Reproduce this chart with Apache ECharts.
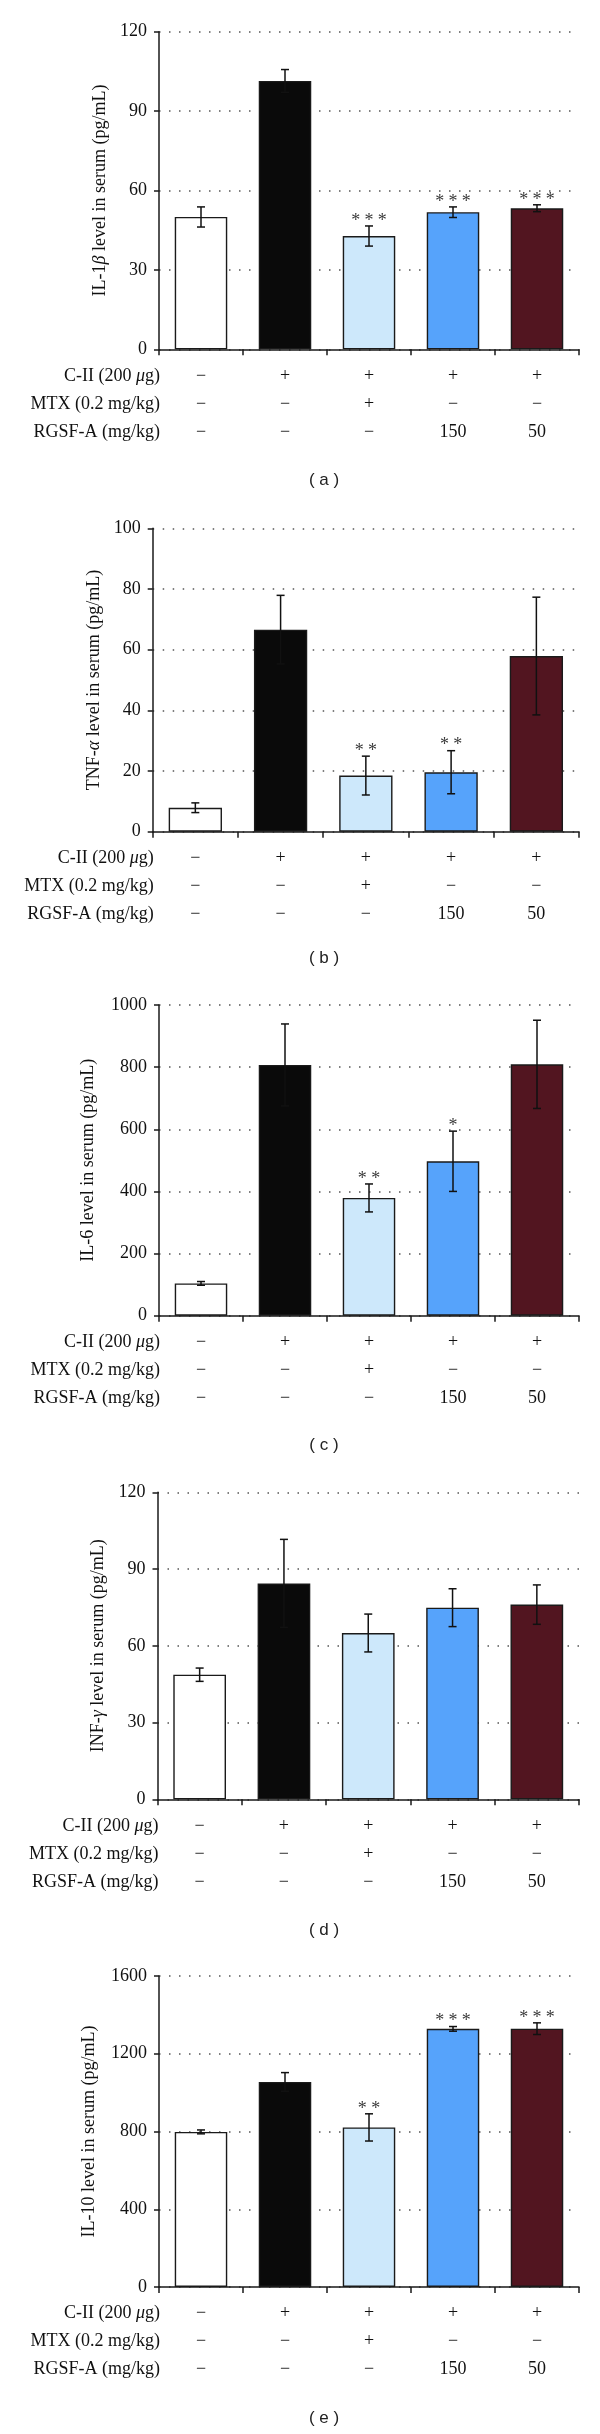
<!DOCTYPE html>
<html>
<head>
<meta charset="utf-8">
<script src="https://cdn.jsdelivr.net/npm/echarts@6/dist/echarts.min.js"></script>
<style>
  html, body { margin: 0; padding: 0; background: #fff; }
  #chart { width: 600px; height: 2434px; }
</style>
</head>
<body>
<div id="chart"></div>
<script>
// ---------- data ----------
const groups = ['Normal', 'C-II', 'C-II + MTX', 'C-II + RGSF-A 150', 'C-II + RGSF-A 50'];
const rowCII  = ['−', '+', '+', '+', '+'];
const rowMTX  = ['−', '−', '+', '−', '−'];
const rowRGSF = ['−', '−', '−', '150', '50'];
const rowNames = ['C-II (200 {i|μ}g)', 'MTX (0.2 mg/kg)', 'RGSF-A (mg/kg)'];

const il1bMean  = [50.0, 101.4, 42.8, 51.8, 53.3];
const il1bErr   = [3.8, 4.3, 3.8, 2.0, 1.3];
const il1bStars = ['', '', '***', '***', '***'];

const tnfMean  = [7.9, 66.6, 18.5, 19.6, 57.9];
const tnfErr   = [1.6, 11.3, 6.4, 7.1, 19.4];
const tnfStars = ['', '', '**', '**', ''];

const il6Mean  = [104, 807, 379, 497, 809];
const il6Err   = [6, 132, 45, 97, 142];
const il6Stars = ['', '', '**', '*', ''];

const infMean  = [48.7, 84.4, 65.0, 74.9, 76.1];
const infErr   = [2.6, 17.2, 7.4, 7.4, 7.7];
const infStars = ['', '', '', '', ''];

const il10Mean  = [798, 1055, 821, 1328, 1329];
const il10Err   = [10, 48, 70, 12, 30];
const il10Stars = ['', '', '**', '***', '***'];

const yTicksA = [0, 120, 30];
const yTicksB = [0, 100, 20];
const yTicksC = [0, 1000, 200];
const yTicksD = [0, 120, 30];
const yTicksE = [0, 1600, 400];

// ---------- styles / layout ----------
const barColors = ['#ffffff', '#0a0a0a', '#cde8fb', '#56a3fb', '#521520'];
const SERIF = "'Liberation Serif', 'DejaVu Serif', serif";
const SANS = "'Liberation Sans', Arial, sans-serif";

const panels = [
  { top: 31.7,  height: 317.6, left: 159,   ticks: yTicksA, name: 'IL-1{i|β} level in serum (pg/mL)', gap: 47, mean: il1bMean, err: il1bErr, stars: il1bStars, tag: '( a )', tagY: 480 },
  { top: 528.3, height: 303.4, left: 152.7, ticks: yTicksB, name: 'TNF-{i|α} level in serum (pg/mL)', gap: 47, mean: tnfMean, err: tnfErr, stars: tnfStars, tag: '( b )', tagY: 958 },
  { top: 1005,  height: 310.7, left: 159,   ticks: yTicksC, name: 'IL-6 level in serum (pg/mL)', gap: 62, mean: il6Mean, err: il6Err, stars: il6Stars, tag: '( c )', tagY: 1445 },
  { top: 1492.3,height: 307,   left: 157.5, ticks: yTicksD, name: 'INF-{i|γ} level in serum (pg/mL)', gap: 49, mean: infMean, err: infErr, stars: infStars, tag: '( d )', tagY: 1930 },
  { top: 1976,  height: 311,   left: 159,   ticks: yTicksE, name: 'IL-10 level in serum (pg/mL)', gap: 61, mean: il10Mean, err: il10Err, stars: il10Stars, tag: '( e )', tagY: 2418 }
];
const RIGHT = 579;

const grid = [], xAxis = [], yAxis = [], series = [], graphic = [];
const richI = { i: { fontStyle: 'italic', fontFamily: SERIF, fontSize: 18, color: '#111' } };

panels.forEach((p, k) => {
  grid.push({ left: p.left, width: RIGHT - p.left, top: p.top, height: p.height, containLabel: false });
  xAxis.push({
    type: 'category', gridIndex: k, data: groups,
    axisLine: { show: true, lineStyle: { color: '#1a1a1a', width: 1.5 } },
    axisTick: { show: true, length: 6, alignWithLabel: false, lineStyle: { color: '#1a1a1a', width: 1.5 } },
    axisLabel: {
      interval: 0, margin: 12.5, lineHeight: 28, fontFamily: SERIF, fontSize: 18, color: '#111',
      formatter: (v, i) => [rowCII[i], rowMTX[i], rowRGSF[i]].join('\n')
    },
    splitLine: { show: false }
  });
  yAxis.push({
    type: 'value', gridIndex: k, min: p.ticks[0], max: p.ticks[1], interval: p.ticks[2],
    name: p.name, nameLocation: 'middle', nameGap: p.gap, nameRotate: 90,
    nameTextStyle: { fontFamily: SERIF, fontSize: 18, color: '#111', rich: richI },
    axisLine: { show: true, lineStyle: { color: '#1a1a1a', width: 1.5 } },
    axisTick: { show: true, length: 5, lineStyle: { color: '#1a1a1a', width: 1.5 } },
    axisLabel: { margin: 12, fontFamily: SERIF, fontSize: 18, color: '#111', formatter: v => String(v) },
    splitLine: { show: true, lineStyle: { color: '#555', width: 1.5, type: [1.5, 8.5] } }
  });
  series.push({
    type: 'bar', xAxisIndex: k, yAxisIndex: k, barWidth: '62.5%',
    data: p.mean.map((v, i) => ({ value: v, itemStyle: { color: barColors[i] } })),
    itemStyle: { borderColor: '#1a1a1a', borderWidth: 1.4 },
    silent: true, z: 2
  });
  series.push({
    type: 'custom', xAxisIndex: k, yAxisIndex: k, z: 3, silent: true,
    data: p.mean.map((v, i) => [i, v, p.err[i]]),
    renderItem: (params, api) => {
      const i = api.value(0), m = api.value(1), e = api.value(2);
      const t = api.coord([i, m + e]);
      const b = api.coord([i, m - e]);
      const st = { stroke: '#111', lineWidth: 1.5 };
      return {
        type: 'group',
        children: [
          { type: 'line', shape: { x1: t[0], y1: t[1], x2: b[0], y2: b[1] }, style: st },
          { type: 'line', shape: { x1: t[0] - 4, y1: t[1], x2: t[0] + 4, y2: t[1] }, style: st },
          { type: 'line', shape: { x1: b[0] - 4, y1: b[1], x2: b[0] + 4, y2: b[1] }, style: st }
        ]
      };
    }
  });
  series.push({
    type: 'custom', xAxisIndex: k, yAxisIndex: k, z: 4, silent: true,
    data: p.mean.map((v, i) => [i, v, p.err[i]]),
    renderItem: (params, api) => {
      const i = api.value(0), m = api.value(1), e = api.value(2);
      const s = p.stars[i];
      if (!s) return null;
      const t = api.coord([i, m + e]);
      const n = s.length;
      const children = [];
      for (let j = 0; j < n; j++) {
        children.push({
          type: 'text',
          style: {
            text: '*', x: t[0] + (j - (n - 1) / 2) * 13.3, y: t[1] - 5,
            align: 'center', verticalAlign: 'middle',
            fontFamily: SERIF, fontSize: 18, fill: '#3a3a3a'
          }
        });
      }
      return { type: 'group', children };
    }
  });
  // row labels
  const axisY = p.top + p.height;
  rowNames.forEach((r, j) => {
    graphic.push({
      type: 'text',
      x: p.left + 1, y: axisY + 26.5 + 28 * j,
      style: {
        text: r, align: 'right', verticalAlign: 'middle',
        fontFamily: SERIF, fontSize: 18, fill: '#111',
        rich: { i: { fontStyle: 'italic', fontFamily: SERIF, fontSize: 18, fill: '#111' } }
      }
    });
  });
  graphic.push({
    type: 'text', x: 324, y: p.tagY,
    style: { text: p.tag, align: 'center', verticalAlign: 'middle', fontFamily: SANS, fontSize: 17, fill: '#222' }
  });
});

const chart = echarts.init(document.getElementById('chart'), null, { renderer: 'canvas', width: 600, height: 2434 });
chart.setOption({
  animation: false,
  backgroundColor: '#ffffff',
  grid, xAxis, yAxis, series, graphic
});
</script>
</body>
</html>
